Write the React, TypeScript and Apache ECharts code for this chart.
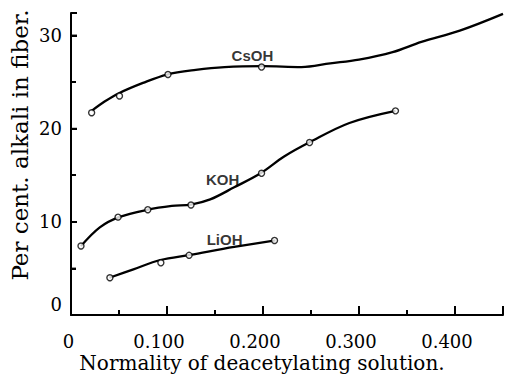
import React, { useEffect, useRef } from "react";
import * as echarts from "echarts";

// Measured points (open circles)
const csohPoints: [number, number][] = [
  [0.0215, 21.7], [0.0505, 23.5], [0.101, 25.8], [0.1985, 26.6], [0.451, 32.3],
];
const kohPoints: [number, number][] = [
  [0.0104, 7.4], [0.049, 10.5], [0.08, 11.3], [0.125, 11.8], [0.1985, 15.2], [0.2485, 18.5], [0.338, 21.9],
];
const liohPoints: [number, number][] = [
  [0.0405, 4.0], [0.0936, 5.6], [0.123, 6.4], [0.212, 8.0],
];

// Hand-drawn curves
const csohCurve: [number, number][] = [
  [0.0215, 21.9], [0.035, 22.9], [0.05, 23.8], [0.075, 24.9], [0.1, 25.8], [0.13, 26.3],
  [0.16, 26.6], [0.2, 26.7], [0.24, 26.6], [0.27, 27.0], [0.3, 27.4], [0.335, 28.2],
  [0.365, 29.3], [0.405, 30.5], [0.45, 32.3],
];
const kohCurve: [number, number][] = [
  [0.0104, 7.4], [0.03, 9.4], [0.05, 10.5], [0.08, 11.3], [0.105, 11.7], [0.125, 11.85],
  [0.145, 12.4], [0.17, 13.7], [0.1975, 15.2], [0.222, 17.0], [0.248, 18.5], [0.29, 20.6],
  [0.338, 21.9],
];
const liohCurve: [number, number][] = [
  [0.04, 4.0], [0.065, 4.9], [0.093, 5.9], [0.124, 6.45], [0.17, 7.3], [0.213, 8.0],
];

// Curve name labels, anchored in data coordinates
const curveNames = ["CsOH", "KOH", "LiOH"];
const curveNameAnchors: [number, number][] = [[0.189, 27.8], [0.158, 14.5], [0.160, 8.1]];

// Axis titles
const xTitle = "Normality of deacetylating solution.";
const yTitle = "Per cent. alkali in fiber.";

// Axis ranges, label steps and tick values
const xRange = [0, 0.45];
const xStep = 0.1;
const yRange = [0, 32.4];
const yStep = 10;
const xMajorTicks = [0.1, 0.2, 0.3, 0.4];
const xMinorTicks = [0.05, 0.15, 0.25, 0.35, 0.45];
const yMajorTicks = [10, 20, 30];
const yMinorTicks = [5, 15, 25];

const SERIF = "'DejaVu Serif', serif";
const INK = "#000";

export default function App() {
  const ref = useRef<HTMLDivElement>(null);
  useEffect(() => {
    if (!ref.current) return;
    const chart = echarts.init(ref.current, null, { renderer: "svg" });
    const lineSeries = (data: [number, number][]) => ({
      type: "line",
      data,
      smooth: 0.35,
      showSymbol: false,
      symbol: "none",
      lineStyle: { color: INK, width: 2.3 },
      z: 2,
      silent: true,
    });
    const pointSeries = (data: [number, number][]) => ({
      type: "scatter",
      data,
      symbol: "circle",
      symbolSize: 6,
      itemStyle: { color: "#fff", borderColor: INK, borderWidth: 1.4 },
      z: 3,
      silent: true,
    });
    const tickSeries = (values: number[], onX: boolean, len: number) => ({
      type: "custom",
      coordinateSystem: "cartesian2d",
      clip: false,
      silent: true,
      z: 5,
      encode: { x: 0, y: 1 },
      data: values.map((v) => (onX ? [v, yRange[0]] : [xRange[0], v])),
      renderItem: (_params: any, api: any) => {
        const p = api.coord([api.value(0), api.value(1)]);
        return {
          type: "line",
          shape: onX
            ? { x1: p[0], y1: p[1], x2: p[0], y2: p[1] - len }
            : { x1: p[0], y1: p[1], x2: p[0] + len, y2: p[1] },
          style: { stroke: INK, lineWidth: 1.6 },
        };
      },
    });
    chart.setOption({
      animation: false,
      grid: { left: 71, right: 3, top: 13, bottom: 59, outerBoundsMode: "none" },
      graphic: [
        {
          type: "text",
          x: 262,
          y: 363,
          style: { text: xTitle, fontFamily: SERIF, fontSize: 20, fill: INK, align: "center", verticalAlign: "middle" },
        },
        {
          type: "text",
          x: 20,
          y: 145,
          rotation: Math.PI / 2,
          style: { text: yTitle, fontFamily: SERIF, fontSize: 23, fill: INK, align: "center", verticalAlign: "middle" },
        },
      ],
      xAxis: [
        {
          type: "value",
          min: xRange[0],
          max: xRange[1],
          interval: xStep,
          splitLine: { show: false },
          axisLine: { show: true, lineStyle: { color: INK, width: 2 } },
          axisTick: { show: true, inside: true, length: 9, lineStyle: { color: "#000", width: 2 } },
          minorTick: { show: true, splitNumber: 2, length: 5, lineStyle: { color: "#000", width: 2 } },
          axisLabel: {
            show: true,
            showMaxLabel: false,
            margin: 17,
            color: INK,
            fontFamily: SERIF,
            fontSize: 18,
            formatter: (v: number) => (v === 0 ? "{z|0}" : "{n|" + v.toFixed(3) + "}"),
            rich: {
              z: { fontFamily: SERIF, fontSize: 18, color: INK, padding: [0, 5, 0, 0] },
              n: { fontFamily: SERIF, fontSize: 18, color: INK, padding: [0, 16, 0, 0] },
            },
          },
        },
      ],
      yAxis: [
        {
          type: "value",
          min: yRange[0],
          max: yRange[1],
          interval: yStep,
          splitLine: { show: false },
          axisLine: { show: true, lineStyle: { color: INK, width: 2 } },
          axisTick: { show: true, inside: true, length: 6, lineStyle: { color: "#000", width: 2 } },
          minorTick: { show: true, splitNumber: 2, length: 5, lineStyle: { color: "#000", width: 2 } },
          axisLabel: {
            show: true,
            showMaxLabel: false,
            margin: 9,
            color: INK,
            fontFamily: SERIF,
            fontSize: 18,
            formatter: (v: number) => (v === 0 ? "{z|0}" : String(v)),
            rich: { z: { fontFamily: SERIF, fontSize: 18, color: INK, padding: [0, 0, 22, 0] } },
          },
        },
      ],
      series: [
        lineSeries(csohCurve),
        lineSeries(kohCurve),
        lineSeries(liohCurve),
        pointSeries(csohPoints),
        pointSeries(kohPoints),
        pointSeries(liohPoints),
        tickSeries(xMajorTicks, true, 9),
        tickSeries(xMinorTicks, true, 5),
        tickSeries(yMajorTicks, false, 6),
        tickSeries(yMinorTicks, false, 5),
        {
          type: "scatter",
          symbolSize: 0,
          silent: true,
          data: curveNameAnchors.map((p, i) => ({ value: p, name: curveNames[i] })),
          label: {
            show: true,
            position: "inside",
            formatter: (p: any) => p.name,
            color: INK,
            fontFamily: "'Liberation Sans', Arial, sans-serif",
            fontWeight: "bold",
            fontSize: 15,
          },
          z: 4,
        },
      ],
    });
    return () => chart.dispose();
  }, []);
  return <div ref={ref} style={{ position: "absolute", left: 0, top: 0, width: 506, height: 374 }} />;
}
